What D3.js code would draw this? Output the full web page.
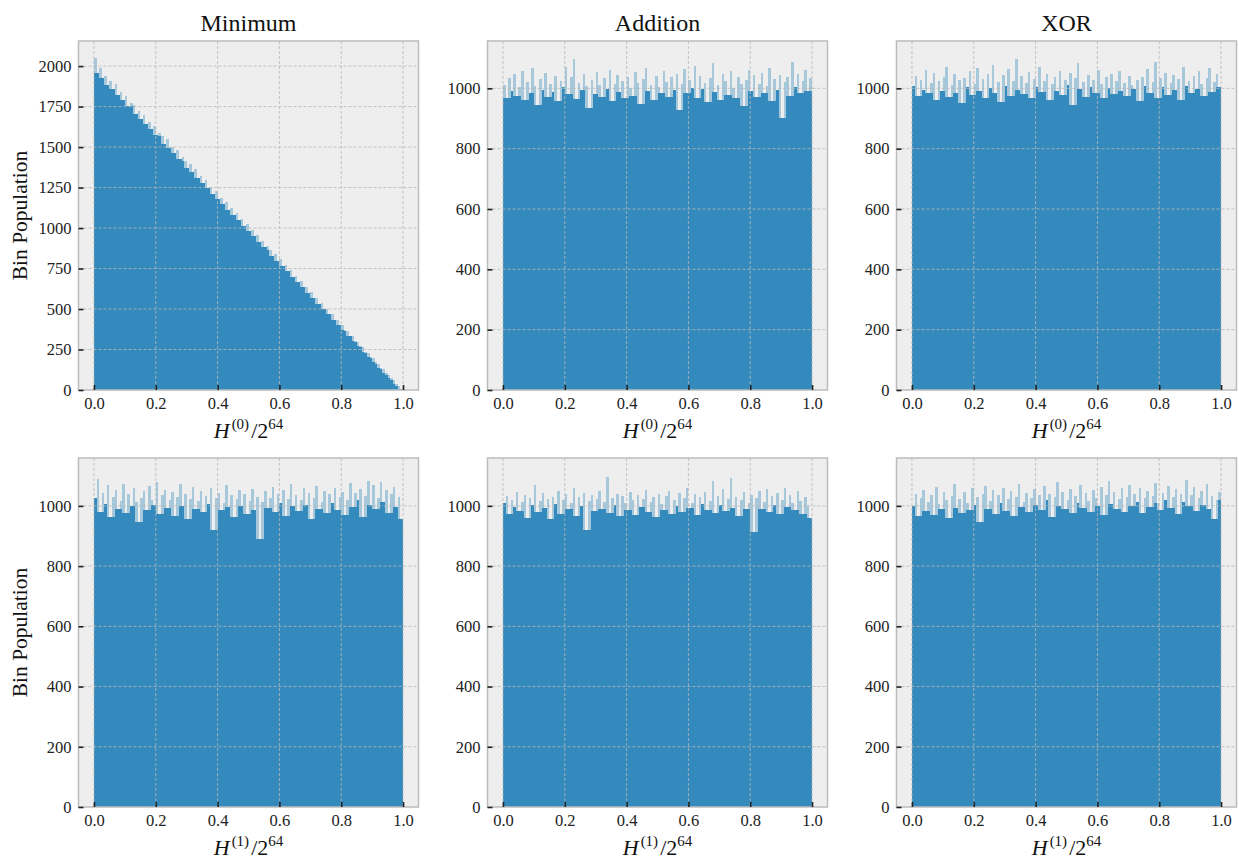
<!DOCTYPE html>
<html>
<head>
<meta charset="utf-8">
<script src="https://cdn.jsdelivr.net/npm/d3@7"></script>
<style>
  body { margin: 0; background: #fff; }
  svg { display: block; font-family: "Liberation Serif", "DejaVu Serif", serif; }
</style>
</head>
<body>
<svg id="chart" width="1239" height="859"></svg>
<script>
// column titles and the hash index per row
const titles = ["Minimum", "Addition", "XOR"];
const hashIndex = ["0", "1"];

// bin populations, 120 bins over [0, 1)
const minimumH0 = [
  2050, 1958, 1990, 1925, 1941, 1882, 1910, 1861, 1889, 1820,
  1838, 1793, 1815, 1752, 1771, 1760, 1704, 1722, 1676, 1698,
  1640, 1655, 1611, 1630, 1575, 1589, 1566, 1521, 1547, 1495,
  1503, 1461, 1480, 1428, 1437, 1416, 1371, 1393, 1349, 1362,
  1311, 1320, 1278, 1296, 1249, 1255, 1213, 1230, 1178, 1188,
  1147, 1160, 1114, 1126, 1081, 1090, 1047, 1055, 1013, 1027,
  980, 991, 949, 958, 914, 922, 880, 889, 866, 830,
  838, 797, 806, 765, 770, 733, 739, 699, 704, 666,
  671, 633, 637, 600, 603, 566, 570, 533, 536, 500,
  501, 467, 468, 434, 433, 401, 399, 368, 365, 336,
  331, 302, 297, 270, 263, 237, 230, 204, 196, 171,
  162, 138, 128, 105, 94, 73, 60, 40, 27, 9
];
const additionH0 = [
  1012, 968, 1035, 990, 1047, 975, 1003, 1058, 962, 1021,
  985, 1066, 1008, 944, 1030, 996, 1052, 971, 1014, 988,
  1041, 959, 1026, 1003, 1071, 980, 1037, 1098, 966, 1019,
  994, 1049, 1007, 935, 1028, 981, 1055, 1012, 970, 1033,
  998, 1062, 957, 1016, 1045, 989, 1024, 968, 1038, 1001,
  975, 1053, 1019, 948, 1031, 1067, 992, 1010, 963, 1042,
  1005, 984, 1057, 1021, 970, 1036, 995, 1049, 927, 1015,
  1063, 986, 1028, 1002, 1075, 969, 1040, 997, 1018, 955,
  1034, 1083, 988, 1011, 962, 1046, 1024, 979, 1058, 1000,
  967, 1039, 1013, 941, 1027, 1061, 990, 1043, 972, 1016,
  1052, 984, 1007, 1068, 958, 1030, 995, 1044, 902, 1021,
  1037, 976, 1088, 1005, 1049, 983, 1026, 1060, 991, 1034
];
const xorH0 = [
  1008, 1042, 976, 1029, 995, 1061, 983, 1017, 1050, 961,
  1024, 990, 1039, 1070, 972, 1011, 1046, 985, 1027, 953,
  1035, 1003, 1057, 979, 1014, 1066, 992, 1032, 968, 1048,
  1001, 1079, 986, 1021, 955, 1043, 1009, 1063, 974, 1026,
  1098, 996, 1040, 981, 1018, 1055, 969, 1031, 1004, 1072,
  987, 1023, 1047, 963, 1015, 1038, 992, 1059, 977, 1028,
  1011, 1051, 946, 1033, 1083, 999, 1020, 971, 1044, 1006,
  1029, 985, 1062, 1013, 967, 1037, 1001, 1049, 980, 1024,
  1056, 990, 1017, 974, 1041, 1010, 998, 1027, 958, 1036,
  1008, 1064, 983, 1022, 1086, 969, 1035, 1003, 1052, 978,
  1019, 1045, 993, 1030, 961, 1070, 1007, 1026, 984, 1041,
  999, 1058, 1016, 975, 1033, 1067, 988, 1021, 1048, 1005
];
const minimumH1 = [
  1025, 1089, 981, 1044, 1007, 1068, 962, 1031, 1053, 990,
  1015, 1072, 976, 1038, 998, 1061, 1012, 947, 1027, 1049,
  985, 1066, 1019, 1003, 1078, 972, 1035, 1054, 993, 1020,
  1046, 968, 1029, 1073, 1001, 1040, 957, 1024, 1062, 988,
  1015, 1050, 979, 1033, 1006, 1058, 921, 1027, 1044, 986,
  1011, 1069, 995, 1036, 964, 1022, 1052, 1000, 1039, 973,
  1017, 1057, 987, 1030, 889, 1012, 1048, 992, 1026, 1063,
  979, 1041, 1008, 1054, 967, 1024, 1071, 998, 1035, 982,
  1019, 1060, 1003, 1043, 958, 1027, 1066, 991, 1014, 1050,
  976, 1038, 1009, 1061, 985, 1029, 1047, 970, 1021, 1075,
  996, 1042, 1018, 1056, 962, 1033, 1081, 1004, 1068, 989,
  1026, 1079, 1012, 1052, 977, 1040, 1063, 995, 1031, 958
];
const additionH1 = [
  1008, 1034, 972, 1021, 995, 1047, 983, 1012, 1036, 961,
  1027, 1003, 1068, 979, 1015, 1042, 992, 1024, 957, 1031,
  1006, 1050, 974, 1019, 1039, 988, 1011, 1058, 968, 1029,
  1000, 1044, 921, 1017, 1035, 982, 1023, 1049, 990, 1013,
  1096, 978, 1026, 1004, 1041, 966, 1032, 1010, 985, 1046,
  1018, 971, 1037, 996, 1022, 1054, 980, 1014, 1029, 963,
  1040, 1007, 986, 1033, 1051, 974, 1020, 999, 1043, 981,
  1025, 1061, 992, 1011, 1038, 969, 1028, 1005, 1047, 987,
  1016, 1081, 975, 1034, 1002, 1055, 983, 1024, 1093, 994,
  1030, 966, 1019, 1045, 988, 1008, 1037, 912, 1026, 1050,
  991, 1013, 1057, 979, 1032, 1003, 1044, 972, 1021, 1059,
  997, 1036, 1009, 985, 1049, 1017, 973, 1030, 1000, 961
];
const xorH1 = [
  998, 1041, 965, 1027, 1054, 982, 1012, 1035, 970, 1063,
  1006, 988, 1047, 1019, 959, 1032, 1071, 994, 1024, 977,
  1045, 1010, 985, 1058, 1002, 1029, 946, 1038, 1067, 991,
  1016, 1052, 973, 1035, 1008, 1060, 984, 1022, 1049, 968,
  1031, 1074, 996, 1014, 1043, 979, 1026, 1057, 1003, 1037,
  986, 1066, 1018, 1040, 962, 1028, 1079, 1001, 1047, 989,
  1021, 1055, 975, 1033, 1010, 1069, 993, 1042, 1017, 980,
  1052, 1026, 1000, 1064, 971, 1036, 1083, 1007, 1045, 990,
  1023, 1058, 981, 1031, 1070, 998, 1039, 1014, 1061, 976,
  1027, 1050, 995, 1033, 1076, 1009, 985, 1044, 1020, 1065,
  992, 1030, 1057, 974, 1041, 1012, 1086, 999, 1036, 1062,
  983, 1025, 1049, 1004, 1072, 990, 1034, 958, 1018, 1045
];

// axis limits and tick labels
const yMax = [2155, 1157, 1157, 1159, 1159, 1159];
const minimumTicks = [0, 250, 500, 750, 1000, 1250, 1500, 1750, 2000];
const uniformTicks = [0, 200, 400, 600, 800, 1000];
const xTicks = [0, 0.2, 0.4, 0.6, 0.8, 1.0];

const panels = [
  {data: minimumH0, ticks: minimumTicks},
  {data: additionH0, ticks: uniformTicks},
  {data: xorH0, ticks: uniformTicks},
  {data: minimumH1, ticks: uniformTicks},
  {data: additionH1, ticks: uniformTicks},
  {data: xorH1, ticks: uniformTicks}
];

const barColor = "#348ABD",
  bgColor = "#EEEEEE",
  gridColor = "#b8b8b8",
  spineColor = "#bcbcbc",
  serif = "Liberation Serif, DejaVu Serif, serif";

const colLeft = [78.5, 487.5, 896.5],
  rowTop = [41, 458],
  axW = 340,
  axH = 349;

const svg = d3.select("#chart");

panels.forEach((p, k) => {
  const col = k % 3, row = Math.floor(k / 3);
  const left = colLeft[col], top = rowTop[row];
  const n = p.data.length;

  const x = d3.scaleLinear().domain([-0.05, 1.05]).range([left, left + axW]);
  const y = d3.scaleLinear().domain([0, yMax[k]]).range([top + axH, top]);

  const g = svg.append("g");

  g.append("rect")
    .attr("x", left).attr("y", top)
    .attr("width", axW).attr("height", axH)
    .attr("fill", bgColor);

  const bins = p.data.map((v, i) => ({
    x0: i / n,
    x1: (i + 1) / n,
    v: v,
    body: Math.min(v, p.data[Math.max(0, i - 1)], p.data[Math.min(n - 1, i + 1)])
  }));

  // light fringe (full bin height)
  g.append("g").selectAll("rect")
    .data(bins)
    .enter().append("rect")
    .attr("x", d => x(d.x0))
    .attr("width", d => x(d.x1) - x(d.x0))
    .attr("y", d => y(d.v))
    .attr("height", d => y(0) - y(d.v))
    .attr("fill", barColor)
    .attr("fill-opacity", 0.38)
    .attr("shape-rendering", "crispEdges");

  // solid body
  g.append("g").selectAll("rect")
    .data(bins)
    .enter().append("rect")
    .attr("x", d => x(d.x0))
    .attr("width", d => x(d.x1) - x(d.x0))
    .attr("y", d => y(d.body))
    .attr("height", d => y(0) - y(d.body))
    .attr("fill", barColor)
    .attr("shape-rendering", "crispEdges");

  // grid, drawn over the bars like matplotlib does
  g.append("g").selectAll("line")
    .data(xTicks)
    .enter().append("line")
    .attr("x1", d => x(d)).attr("x2", d => x(d))
    .attr("y1", top).attr("y2", top + axH)
    .attr("stroke", gridColor)
    .attr("stroke-width", 0.8)
    .attr("stroke-dasharray", "3,2");
  g.append("g").selectAll("line")
    .data(p.ticks.filter(t => t > 0))
    .enter().append("line")
    .attr("x1", left).attr("x2", left + axW)
    .attr("y1", d => y(d)).attr("y2", d => y(d))
    .attr("stroke", gridColor)
    .attr("stroke-width", 0.8)
    .attr("stroke-dasharray", "3,2");

  // spines
  g.append("rect")
    .attr("x", left).attr("y", top)
    .attr("width", axW).attr("height", axH)
    .attr("fill", "none")
    .attr("stroke", spineColor)
    .attr("stroke-width", 1.5);

  // axes with inward ticks
  const xAxis = g.append("g")
    .attr("transform", `translate(0,${top + axH})`)
    .call(d3.axisBottom(x).tickValues(xTicks).tickFormat(d3.format(".1f"))
      .tickSizeInner(-5).tickSizeOuter(0).tickPadding(7));
  xAxis.select(".domain").remove();
  xAxis.selectAll(".tick line").attr("stroke", "#222").attr("stroke-width", 1.6);
  xAxis.selectAll(".tick text")
    .attr("font-family", serif)
    .attr("font-size", 16.5)
    .attr("fill", "#222");

  const yAxis = g.append("g")
    .attr("transform", `translate(${left},0)`)
    .call(d3.axisLeft(y).tickValues(p.ticks).tickFormat(d3.format("d"))
      .tickSizeInner(-5).tickSizeOuter(0).tickPadding(7));
  yAxis.select(".domain").remove();
  yAxis.selectAll(".tick line").attr("stroke", "#222").attr("stroke-width", 1.6);
  yAxis.selectAll(".tick text")
    .attr("font-family", serif)
    .attr("font-size", 16.5)
    .attr("fill", "#222");

  if (row === 0) {
    g.append("text")
      .attr("x", left + axW / 2)
      .attr("y", top - 10)
      .attr("text-anchor", "middle")
      .attr("font-family", serif)
      .attr("font-size", 24)
      .attr("fill", "#111")
      .text(titles[col]);
  }

  // x label: H^(i) / 2^64
  const lab = g.append("text")
    .attr("x", left + axW / 2)
    .attr("y", top + axH + 48)
    .attr("text-anchor", "middle")
    .attr("font-family", serif)
    .attr("font-size", 22)
    .attr("fill", "#111");
  lab.append("tspan").attr("font-style", "italic").text("H");
  lab.append("tspan").attr("font-size", 15).attr("dx", 2).attr("dy", -9).text("(" + hashIndex[row] + ")");
  lab.append("tspan").attr("dx", 2).attr("dy", 9).text("/2");
  lab.append("tspan").attr("font-size", 15).attr("dy", -9).text("64");

  if (col === 0) {
    g.append("text")
      .attr("transform", `translate(27,${top + axH / 2}) rotate(-90)`)
      .attr("text-anchor", "middle")
      .attr("font-family", serif)
      .attr("font-size", 21.5)
      .attr("fill", "#111")
      .text("Bin Population");
  }
});
</script>
</body>
</html>
